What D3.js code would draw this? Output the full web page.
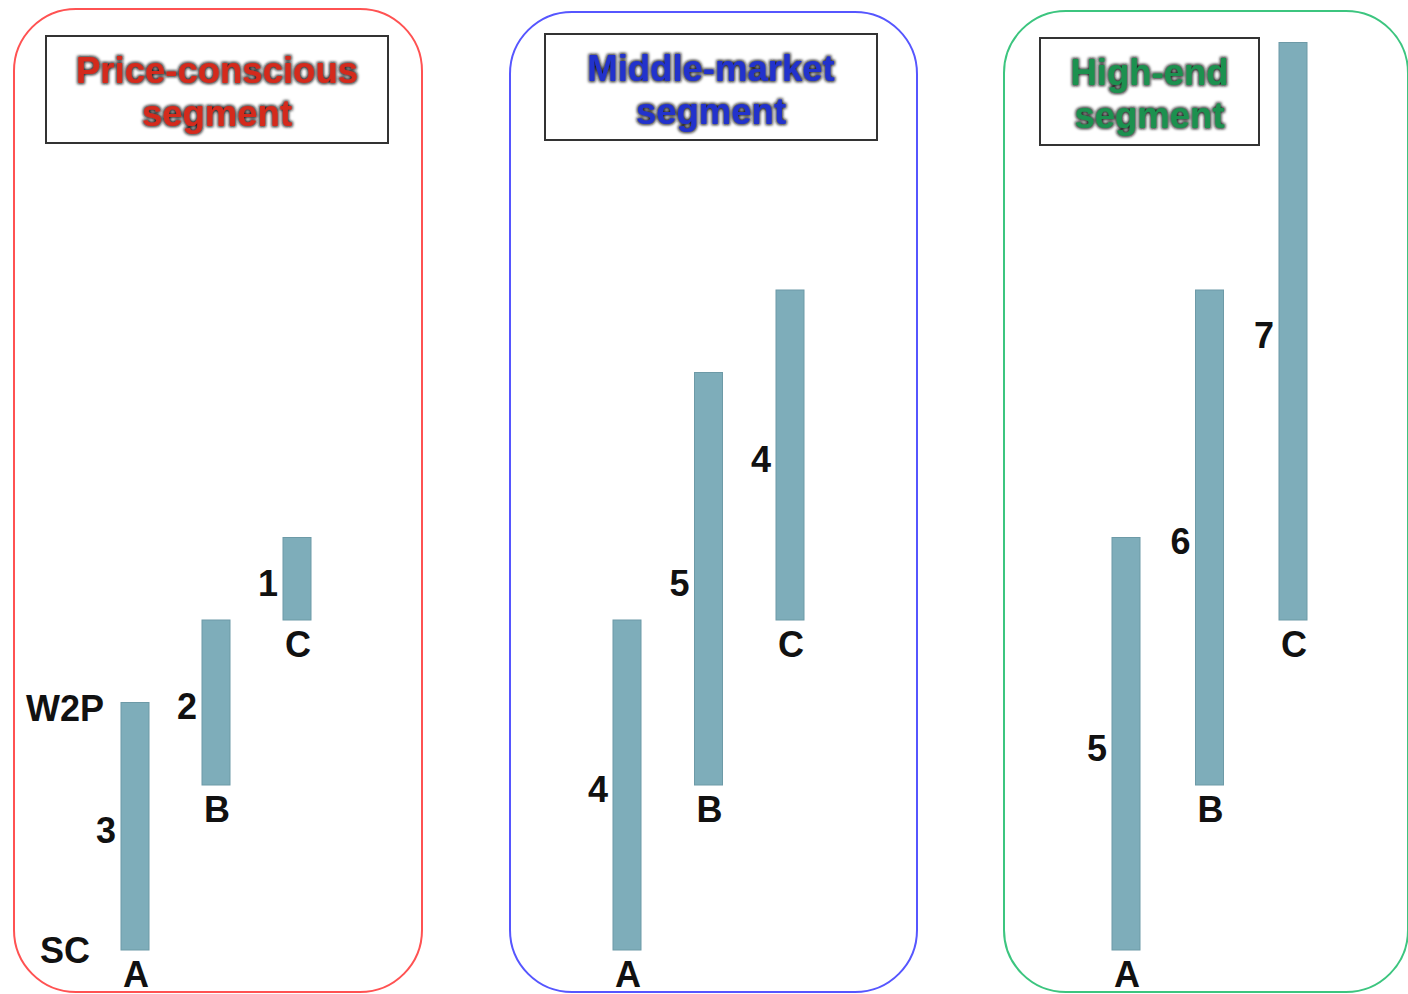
<!DOCTYPE html>
<html>
<head>
<meta charset="utf-8">
<script src="https://cdn.jsdelivr.net/npm/d3@7"></script>
<style>
  html, body { margin: 0; padding: 0; background: #fff; }
  svg { display: block; }
  text { font-family: "Liberation Sans", Arial, Helvetica, sans-serif; font-weight: bold; }
</style>
</head>
<body>
<svg id="chart" width="1408" height="994"></svg>
<script>
// ---- data ----
const segmentTitles = [
  ["Price-conscious", "segment"],
  ["Middle-market", "segment"],
  ["High-end", "segment"]
];
const categories = ["A", "B", "C"];
const barStarts = [0, 2, 4];
const priceConsciousLengths = [3, 2, 1];
const middleMarketLengths = [4, 5, 4];
const highEndLengths = [5, 6, 7];
const axisMarkerLabels = ["SC", "W2P"];
const axisMarkerValues = [0, 3];

const seriesLengths = [priceConsciousLengths, middleMarketLengths, highEndLengths];

// ---- layout / style ----
const panels = [
  { x: 14,   y: 9,  w: 408, h: 983, color: "#ff5252", title: "#d42a1f", box: { x: 46,   y: 36, w: 342, h: 107 }, off: 121, span: 162 },
  { x: 510,  y: 12, w: 407, h: 980, color: "#5656ff", title: "#2233cc", box: { x: 545,  y: 34, w: 332, h: 106 }, off: 117, span: 163 },
  { x: 1004, y: 11, w: 404, h: 981, color: "#3cc57f", title: "#1c9150", box: { x: 1040, y: 38, w: 219, h: 107 }, off: 122, span: 167 }
];

const svg = d3.select("#chart");
const defs = svg.append("defs");
const f = defs.append("filter").attr("id", "glow").attr("x", "-10%").attr("y", "-20%").attr("width", "120%").attr("height", "140%");
f.append("feMorphology").attr("in", "SourceAlpha").attr("operator", "dilate").attr("radius", 1.2).attr("result", "d");
f.append("feGaussianBlur").attr("in", "d").attr("stdDeviation", 1.6).attr("result", "b");
f.append("feFlood").attr("flood-color", "#111").attr("flood-opacity", 0.95);
f.append("feComposite").attr("in2", "b").attr("operator", "in").attr("result", "s");
const m = f.append("feMerge");
m.append("feMergeNode").attr("in", "s");
m.append("feMergeNode").attr("in", "SourceGraphic");

const y = d3.scaleLinear().domain([0, 8]).range([950, 290]);
const barW = 28;

panels.forEach((p, i) => {
  const g = svg.append("g");
  g.append("rect")
    .attr("x", p.x).attr("y", p.y).attr("width", p.w).attr("height", p.h)
    .attr("rx", 62).attr("ry", 62)
    .attr("fill", "none").attr("stroke", p.color).attr("stroke-width", 2);

  // title box
  g.append("rect")
    .attr("x", p.box.x).attr("y", p.box.y).attr("width", p.box.w).attr("height", p.box.h)
    .attr("fill", "#fff").attr("stroke", "#333").attr("stroke-width", 2);
  const tcx = p.box.x + p.box.w / 2;
  g.append("text")
    .attr("x", tcx).attr("y", p.box.y + 47)
    .attr("text-anchor", "middle").attr("font-size", 36.5)
    .attr("fill", p.title).attr("filter", "url(#glow)")
    .selectAll("tspan").data(segmentTitles[i]).join("tspan")
    .attr("x", tcx).attr("dy", (d, k) => k === 0 ? 0 : 43)
    .text(d => d);

  const x = d3.scalePoint().domain(categories).range([p.x + p.off, p.x + p.off + p.span]);
  const data = categories.map((c, k) => ({ c, start: barStarts[k], len: seriesLengths[i][k] }));

  g.selectAll("rect.bar").data(data).join("rect").attr("class", "bar")
    .attr("x", d => x(d.c) - barW / 2)
    .attr("y", d => y(d.start + d.len))
    .attr("width", barW)
    .attr("height", d => y(d.start) - y(d.start + d.len))
    .attr("fill", "#7eadba").attr("stroke", "#6d9aa7").attr("stroke-width", 1);

  g.selectAll("text.val").data(data).join("text").attr("class", "val")
    .attr("x", d => x(d.c) - barW / 2 - 5)
    .attr("y", d => (y(d.start) + y(d.start + d.len)) / 2 + 4)
    .attr("dy", "0.36em")
    .attr("text-anchor", "end").attr("font-size", 36).attr("fill", "#111")
    .text(d => d.len);

  g.selectAll("text.cat").data(data).join("text").attr("class", "cat")
    .attr("x", d => x(d.c) + 1)
    .attr("y", d => y(d.start) + 37)
    .attr("text-anchor", "middle").attr("font-size", 36).attr("fill", "#111")
    .text(d => d.c);

  if (i === 0) {
    g.selectAll("text.marker").data(axisMarkerLabels).join("text").attr("class", "marker")
      .attr("x", p.x + 51)
      .attr("y", (d, k) => y(axisMarkerValues[k]) + (k === 0 ? 0 : 6))
      .attr("dy", "0.36em")
      .attr("text-anchor", "middle").attr("font-size", 36).attr("fill", "#111")
      .text(d => d);
  }
});
</script>
</body>
</html>
